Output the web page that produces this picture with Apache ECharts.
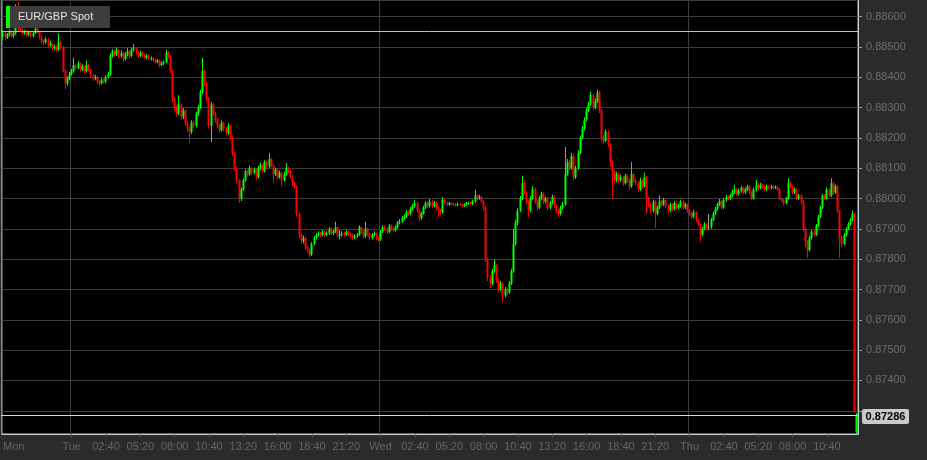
<!DOCTYPE html>
<html>
<head>
<meta charset="utf-8">
<script src="https://cdn.jsdelivr.net/npm/echarts@6/dist/echarts.min.js"></script>
<style>
html,body{margin:0;padding:0;background:#2b2b2b;}
#chart{width:927px;height:460px;}
</style>
</head>
<body>
<div id="chart"></div>
<script>
// 10-minute EUR/GBP candles, Mon 18:40 -> Thu 13:00
const open = [
0.88535,0.88545,0.88530,0.88540,0.88550,0.88535,0.88545,0.88575,0.88560,0.88555,
0.88545,0.88550,0.88540,0.88548,0.88535,0.88545,0.88560,0.88550,0.88530,0.88520,
0.88515,0.88525,0.88505,0.88510,0.88495,0.88500,0.88490,0.88515,0.88500,0.88420,
0.88380,0.88395,0.88410,0.88420,0.88440,0.88430,0.88445,0.88425,0.88435,0.88420,
0.88440,0.88425,0.88405,0.88395,0.88400,0.88385,0.88380,0.88390,0.88385,0.88400,
0.88410,0.88470,0.88485,0.88475,0.88490,0.88470,0.88480,0.88460,0.88475,0.88485,
0.88470,0.88490,0.88495,0.88480,0.88470,0.88480,0.88475,0.88465,0.88470,0.88462,
0.88462,0.88458,0.88450,0.88455,0.88440,0.88445,0.88450,0.88480,0.88470,0.88420,
0.88330,0.88300,0.88280,0.88310,0.88270,0.88290,0.88250,0.88230,0.88220,0.88250,
0.88240,0.88280,0.88300,0.88350,0.88420,0.88380,0.88330,0.88240,0.88310,0.88280,
0.88260,0.88240,0.88225,0.88250,0.88230,0.88215,0.88240,0.88200,0.88150,0.88100,
0.88060,0.88000,0.88030,0.88060,0.88090,0.88080,0.88100,0.88085,0.88095,0.88070,
0.88100,0.88110,0.88090,0.88120,0.88105,0.88130,0.88110,0.88080,0.88095,0.88070,
0.88085,0.88060,0.88080,0.88100,0.88090,0.88075,0.88050,0.88040,0.87950,0.87880,
0.87860,0.87870,0.87840,0.87830,0.87815,0.87850,0.87870,0.87880,0.87885,0.87880,
0.87890,0.87880,0.87885,0.87900,0.87885,0.87890,0.87905,0.87880,0.87880,0.87885,
0.87880,0.87890,0.87885,0.87880,0.87870,0.87875,0.87880,0.87905,0.87890,0.87875,
0.87900,0.87885,0.87870,0.87880,0.87885,0.87870,0.87865,0.87890,0.87905,0.87900,
0.87890,0.87910,0.87900,0.87895,0.87905,0.87920,0.87925,0.87935,0.87940,0.87955,
0.87950,0.87965,0.87975,0.87985,0.87960,0.87935,0.87950,0.87970,0.87985,0.87975,
0.87990,0.87975,0.87985,0.87970,0.87960,0.87955,0.87995,0.87985,0.87980,0.87985,
0.87982,0.87980,0.87978,0.87982,0.87980,0.87975,0.87980,0.87983,0.87985,0.87982,
0.87990,0.88010,0.88000,0.88005,0.87990,0.87970,0.87800,0.87740,0.87720,0.87760,
0.87780,0.87730,0.87700,0.87720,0.87680,0.87700,0.87690,0.87720,0.87760,0.87850,
0.87920,0.87960,0.88000,0.88050,0.88020,0.87990,0.87960,0.88000,0.88030,0.87990,
0.87970,0.88000,0.88015,0.87990,0.88000,0.87970,0.87985,0.88005,0.87975,0.87960,
0.87950,0.87970,0.87980,0.88080,0.88120,0.88100,0.88140,0.88070,0.88100,0.88150,
0.88200,0.88230,0.88260,0.88290,0.88310,0.88340,0.88300,0.88320,0.88350,0.88290,
0.88200,0.88190,0.88220,0.88180,0.88120,0.88090,0.88060,0.88080,0.88060,0.88070,
0.88050,0.88075,0.88060,0.88040,0.88080,0.88060,0.88050,0.88030,0.88060,0.88040,
0.88070,0.88000,0.87980,0.87960,0.87990,0.87950,0.87970,0.87990,0.87980,0.87995,
0.87975,0.87960,0.87980,0.87965,0.87985,0.87970,0.87975,0.87990,0.87970,0.87980,
0.87960,0.87950,0.87940,0.87955,0.87930,0.87915,0.87880,0.87900,0.87915,0.87905,
0.87905,0.87930,0.87950,0.87965,0.87980,0.87990,0.87970,0.87995,0.88005,0.88000,
0.88010,0.88020,0.88030,0.88015,0.88025,0.88035,0.88020,0.88030,0.88040,0.88020,
0.88000,0.88030,0.88045,0.88035,0.88045,0.88040,0.88030,0.88040,0.88035,0.88040,
0.88035,0.88038,0.88030,0.88000,0.87995,0.87985,0.88000,0.88050,0.88040,0.88020,
0.88030,0.88000,0.88010,0.87990,0.87900,0.87860,0.87830,0.87870,0.87890,0.87880,
0.87910,0.87940,0.87970,0.88010,0.88000,0.88030,0.88010,0.88050,0.88020,0.88040,
0.87960,0.87870,0.87850,0.87880,0.87900,0.87915,0.87930,0.87950,0.87230
];
const close = [
0.88545,0.88530,0.88540,0.88550,0.88535,0.88545,0.88575,0.88560,0.88555,0.88545,
0.88550,0.88540,0.88548,0.88535,0.88545,0.88560,0.88550,0.88530,0.88520,0.88515,
0.88525,0.88505,0.88510,0.88495,0.88500,0.88490,0.88515,0.88500,0.88420,0.88380,
0.88395,0.88410,0.88420,0.88440,0.88430,0.88445,0.88425,0.88435,0.88420,0.88440,
0.88425,0.88405,0.88395,0.88400,0.88385,0.88380,0.88390,0.88385,0.88400,0.88410,
0.88470,0.88485,0.88475,0.88490,0.88470,0.88480,0.88460,0.88475,0.88485,0.88470,
0.88490,0.88495,0.88480,0.88470,0.88480,0.88475,0.88465,0.88470,0.88462,0.88462,
0.88458,0.88450,0.88455,0.88440,0.88445,0.88450,0.88480,0.88470,0.88420,0.88330,
0.88300,0.88280,0.88310,0.88270,0.88290,0.88250,0.88230,0.88220,0.88250,0.88240,
0.88280,0.88300,0.88350,0.88420,0.88380,0.88330,0.88240,0.88310,0.88280,0.88260,
0.88240,0.88225,0.88250,0.88230,0.88215,0.88240,0.88200,0.88150,0.88100,0.88060,
0.88000,0.88030,0.88060,0.88090,0.88080,0.88100,0.88085,0.88095,0.88070,0.88100,
0.88110,0.88090,0.88120,0.88105,0.88130,0.88110,0.88080,0.88095,0.88070,0.88085,
0.88060,0.88080,0.88100,0.88090,0.88075,0.88050,0.88040,0.87950,0.87880,0.87860,
0.87870,0.87840,0.87830,0.87815,0.87850,0.87870,0.87880,0.87885,0.87880,0.87890,
0.87880,0.87885,0.87900,0.87885,0.87890,0.87905,0.87880,0.87880,0.87885,0.87880,
0.87890,0.87885,0.87880,0.87870,0.87875,0.87880,0.87905,0.87890,0.87875,0.87900,
0.87885,0.87870,0.87880,0.87885,0.87870,0.87865,0.87890,0.87905,0.87900,0.87890,
0.87910,0.87900,0.87895,0.87905,0.87920,0.87925,0.87935,0.87940,0.87955,0.87950,
0.87965,0.87975,0.87985,0.87960,0.87935,0.87950,0.87970,0.87985,0.87975,0.87990,
0.87975,0.87985,0.87970,0.87960,0.87955,0.87995,0.87985,0.87980,0.87985,0.87982,
0.87980,0.87978,0.87982,0.87980,0.87975,0.87980,0.87983,0.87985,0.87982,0.87990,
0.88010,0.88000,0.88005,0.87990,0.87970,0.87800,0.87740,0.87720,0.87760,0.87780,
0.87730,0.87700,0.87720,0.87680,0.87700,0.87690,0.87720,0.87760,0.87850,0.87920,
0.87960,0.88000,0.88050,0.88020,0.87990,0.87960,0.88000,0.88030,0.87990,0.87970,
0.88000,0.88015,0.87990,0.88000,0.87970,0.87985,0.88005,0.87975,0.87960,0.87950,
0.87970,0.87980,0.88080,0.88120,0.88100,0.88140,0.88070,0.88100,0.88150,0.88200,
0.88230,0.88260,0.88290,0.88310,0.88340,0.88300,0.88320,0.88350,0.88290,0.88200,
0.88190,0.88220,0.88180,0.88120,0.88090,0.88060,0.88080,0.88060,0.88070,0.88050,
0.88075,0.88060,0.88040,0.88080,0.88060,0.88050,0.88030,0.88060,0.88040,0.88070,
0.88000,0.87980,0.87960,0.87990,0.87950,0.87970,0.87990,0.87980,0.87995,0.87975,
0.87960,0.87980,0.87965,0.87985,0.87970,0.87975,0.87990,0.87970,0.87980,0.87960,
0.87950,0.87940,0.87955,0.87930,0.87915,0.87880,0.87900,0.87915,0.87905,0.87905,
0.87930,0.87950,0.87965,0.87980,0.87990,0.87970,0.87995,0.88005,0.88000,0.88010,
0.88020,0.88030,0.88015,0.88025,0.88035,0.88020,0.88030,0.88040,0.88020,0.88000,
0.88030,0.88045,0.88035,0.88045,0.88040,0.88030,0.88040,0.88035,0.88040,0.88035,
0.88038,0.88030,0.88000,0.87995,0.87985,0.88000,0.88050,0.88040,0.88020,0.88030,
0.88000,0.88010,0.87990,0.87900,0.87860,0.87830,0.87870,0.87890,0.87880,0.87910,
0.87940,0.87970,0.88010,0.88000,0.88030,0.88010,0.88050,0.88020,0.88040,0.87960,
0.87870,0.87850,0.87880,0.87900,0.87915,0.87930,0.87950,0.87300,0.87286
];
const high = [
0.88555,0.88550,0.88546,0.88558,0.88556,0.88552,0.88640,0.88648,0.88568,0.88560,
0.88556,0.88555,0.88553,0.88552,0.88550,0.88575,0.88565,0.88553,0.88535,0.88525,
0.88532,0.88528,0.88520,0.88513,0.88508,0.88505,0.88545,0.88520,0.88503,0.88425,
0.88402,0.88418,0.88428,0.88465,0.88445,0.88452,0.88448,0.88442,0.88438,0.88455,
0.88444,0.88428,0.88410,0.88408,0.88404,0.88390,0.88396,0.88395,0.88406,0.88418,
0.88478,0.88492,0.88490,0.88498,0.88494,0.88488,0.88484,0.88482,0.88495,0.88490,
0.88498,0.88510,0.88500,0.88485,0.88488,0.88484,0.88478,0.88476,0.88474,0.88468,
0.88466,0.88462,0.88460,0.88458,0.88452,0.88456,0.88490,0.88486,0.88474,0.88424,
0.88335,0.88306,0.88340,0.88314,0.88298,0.88294,0.88256,0.88236,0.88258,0.88256,
0.88286,0.88308,0.88358,0.88463,0.88425,0.88385,0.88335,0.88318,0.88314,0.88285,
0.88266,0.88245,0.88258,0.88254,0.88236,0.88248,0.88244,0.88205,0.88155,0.88105,
0.88064,0.88036,0.88066,0.88096,0.88095,0.88108,0.88104,0.88102,0.88098,0.88108,
0.88118,0.88114,0.88126,0.88124,0.88150,0.88134,0.88114,0.88102,0.88098,0.88092,
0.88088,0.88088,0.88117,0.88105,0.88094,0.88078,0.88056,0.88044,0.87955,0.87886,
0.87878,0.87874,0.87846,0.87835,0.87856,0.87876,0.87886,0.87892,0.87890,0.87896,
0.87894,0.87892,0.87906,0.87904,0.87896,0.87923,0.87908,0.87895,0.87892,0.87890,
0.87896,0.87894,0.87888,0.87884,0.87882,0.87886,0.87912,0.87908,0.87894,0.87923,
0.87904,0.87888,0.87886,0.87892,0.87888,0.87874,0.87896,0.87912,0.87910,0.87904,
0.87916,0.87914,0.87905,0.87912,0.87926,0.87932,0.87942,0.87948,0.87962,0.87960,
0.87972,0.87982,0.87995,0.87990,0.87964,0.87956,0.87976,0.87992,0.87990,0.87998,
0.87994,0.87992,0.87988,0.87974,0.87965,0.88005,0.87999,0.87990,0.87989,0.87988,
0.87986,0.87984,0.87986,0.87985,0.87983,0.87984,0.87988,0.87990,0.87988,0.87996,
0.88030,0.88015,0.88012,0.88008,0.87994,0.87974,0.87806,0.87746,0.87768,0.87800,
0.87784,0.87735,0.87728,0.87724,0.87708,0.87706,0.87728,0.87768,0.87900,0.87930,
0.87968,0.88008,0.88075,0.88060,0.88025,0.87995,0.88008,0.88040,0.88035,0.87996,
0.88008,0.88022,0.88020,0.88006,0.88004,0.87992,0.88012,0.88010,0.87980,0.87965,
0.87976,0.87988,0.88170,0.88130,0.88126,0.88150,0.88145,0.88108,0.88158,0.88208,
0.88240,0.88268,0.88298,0.88320,0.88352,0.88345,0.88330,0.88360,0.88355,0.88295,
0.88208,0.88228,0.88224,0.88184,0.88125,0.88095,0.88088,0.88085,0.88078,0.88074,
0.88082,0.88080,0.88064,0.88120,0.88085,0.88066,0.88055,0.88068,0.88064,0.88085,
0.88074,0.88005,0.87986,0.87996,0.87994,0.87976,0.88010,0.87996,0.88002,0.88000,
0.87980,0.87986,0.87984,0.87992,0.87990,0.87982,0.87996,0.87994,0.87986,0.87984,
0.87965,0.87955,0.87962,0.87958,0.87935,0.87918,0.87906,0.87922,0.87920,0.87950,
0.87936,0.87956,0.87972,0.87986,0.87998,0.87994,0.88002,0.88012,0.88010,0.88016,
0.88028,0.88045,0.88034,0.88032,0.88042,0.88038,0.88036,0.88046,0.88044,0.88024,
0.88036,0.88061,0.88050,0.88052,0.88050,0.88044,0.88046,0.88044,0.88045,0.88044,
0.88043,0.88042,0.88034,0.88004,0.87998,0.88006,0.88067,0.88056,0.88044,0.88036,
0.88034,0.88016,0.88014,0.87994,0.87905,0.87864,0.87876,0.87896,0.87895,0.87916,
0.87946,0.87976,0.88016,0.88015,0.88036,0.88034,0.88067,0.88055,0.88046,0.88044,
0.87964,0.87876,0.87886,0.87906,0.87922,0.87936,0.87960,0.87955,0.87292
];
const low = [
0.88525,0.88522,0.88526,0.88535,0.88530,0.88530,0.88540,0.88555,0.88548,0.88538,
0.88540,0.88535,0.88535,0.88528,0.88530,0.88542,0.88545,0.88525,0.88512,0.88505,
0.88510,0.88498,0.88500,0.88488,0.88490,0.88482,0.88486,0.88492,0.88415,0.88360,
0.88372,0.88390,0.88405,0.88415,0.88422,0.88425,0.88418,0.88420,0.88412,0.88415,
0.88418,0.88398,0.88388,0.88390,0.88378,0.88368,0.88375,0.88378,0.88380,0.88396,
0.88405,0.88465,0.88468,0.88470,0.88462,0.88465,0.88450,0.88455,0.88470,0.88465,
0.88466,0.88485,0.88474,0.88464,0.88466,0.88468,0.88460,0.88460,0.88457,0.88455,
0.88452,0.88444,0.88446,0.88432,0.88436,0.88440,0.88446,0.88462,0.88412,0.88320,
0.88290,0.88270,0.88275,0.88260,0.88262,0.88240,0.88220,0.88183,0.88212,0.88232,
0.88235,0.88272,0.88295,0.88345,0.88370,0.88320,0.88230,0.88185,0.88272,0.88250,
0.88232,0.88215,0.88220,0.88222,0.88205,0.88210,0.88192,0.88140,0.88090,0.88050,
0.87985,0.87992,0.88025,0.88055,0.88072,0.88075,0.88078,0.88080,0.88062,0.88066,
0.88095,0.88082,0.88086,0.88098,0.88100,0.88102,0.88050,0.88074,0.88062,0.88065,
0.88040,0.88055,0.88075,0.88084,0.88068,0.88042,0.88032,0.87940,0.87870,0.87850,
0.87852,0.87832,0.87822,0.87806,0.87810,0.87845,0.87865,0.87875,0.87874,0.87876,
0.87874,0.87876,0.87880,0.87880,0.87880,0.87886,0.87874,0.87866,0.87874,0.87874,
0.87876,0.87878,0.87873,0.87864,0.87866,0.87870,0.87876,0.87884,0.87868,0.87870,
0.87878,0.87864,0.87865,0.87876,0.87862,0.87857,0.87860,0.87886,0.87894,0.87883,
0.87886,0.87894,0.87888,0.87890,0.87900,0.87915,0.87920,0.87930,0.87936,0.87943,
0.87945,0.87960,0.87970,0.87954,0.87925,0.87930,0.87946,0.87965,0.87968,0.87970,
0.87968,0.87970,0.87962,0.87940,0.87945,0.87950,0.87980,0.87975,0.87976,0.87978,
0.87975,0.87973,0.87974,0.87976,0.87971,0.87972,0.87976,0.87979,0.87977,0.87978,
0.87986,0.87994,0.87996,0.87984,0.87960,0.87790,0.87728,0.87705,0.87715,0.87755,
0.87722,0.87690,0.87694,0.87658,0.87674,0.87680,0.87686,0.87715,0.87755,0.87845,
0.87912,0.87955,0.87995,0.88012,0.87982,0.87940,0.87955,0.87995,0.87982,0.87962,
0.87965,0.87994,0.87982,0.87984,0.87962,0.87965,0.87980,0.87968,0.87952,0.87940,
0.87944,0.87964,0.87976,0.88075,0.88092,0.88095,0.88060,0.88064,0.88095,0.88145,
0.88195,0.88224,0.88255,0.88284,0.88305,0.88292,0.88295,0.88315,0.88282,0.88190,
0.88180,0.88185,0.88170,0.88104,0.88000,0.88050,0.88054,0.88052,0.88055,0.88042,
0.88045,0.88052,0.88030,0.88035,0.88052,0.88044,0.88022,0.88025,0.88032,0.88035,
0.87950,0.87972,0.87952,0.87955,0.87903,0.87945,0.87965,0.87974,0.87975,0.87968,
0.87952,0.87955,0.87958,0.87960,0.87962,0.87965,0.87970,0.87964,0.87965,0.87953,
0.87944,0.87932,0.87935,0.87922,0.87908,0.87857,0.87875,0.87895,0.87898,0.87895,
0.87900,0.87925,0.87945,0.87960,0.87975,0.87964,0.87966,0.87990,0.87994,0.87995,
0.88005,0.88015,0.88008,0.88010,0.88020,0.88014,0.88015,0.88025,0.88014,0.87994,
0.87996,0.88025,0.88028,0.88030,0.88034,0.88024,0.88025,0.88030,0.88030,0.88030,
0.88031,0.88025,0.87994,0.87988,0.87978,0.87980,0.87996,0.88034,0.88014,0.88015,
0.87994,0.87995,0.87982,0.87892,0.87840,0.87805,0.87825,0.87864,0.87874,0.87876,
0.87905,0.87935,0.87965,0.87994,0.87996,0.88004,0.88005,0.88012,0.88015,0.87952,
0.87805,0.87840,0.87845,0.87875,0.87895,0.87910,0.87925,0.87295,0.87224
];

const seriesName = 'EUR/GBP Spot';
const lastPrice = 0.87286;
const refLevel = 0.88552;
const yMin = 0.872235;
const yMax = 0.886544;

const days = ['Mon', 'Tue', 'Wed', 'Thu'];
const startMinute = 18 * 60 + 40;
const stepMinutes = 10;
const tickTimes = ['Mon 18:40','Tue 00:00','Tue 02:40','Tue 05:20','Tue 08:00','Tue 10:40','Tue 13:20','Tue 16:00','Tue 18:40','Tue 21:20',
  'Wed 00:00','Wed 02:40','Wed 05:20','Wed 08:00','Wed 10:40','Wed 13:20','Wed 16:00','Wed 18:40','Wed 21:20',
  'Thu 00:00','Thu 02:40','Thu 05:20','Thu 08:00','Thu 10:40'];
const tickLabels = ['Mon','Tue','02:40','05:20','08:00','10:40','13:20','16:00','18:40','21:20',
  'Wed','02:40','05:20','08:00','10:40','13:20','16:00','18:40','21:20',
  'Thu','02:40','05:20','08:00','10:40'];
const dayStarts = ['Tue 00:00', 'Wed 00:00', 'Thu 00:00'];

function pad(n) { return String(n).padStart(2, '0'); }
const categories = close.map(function (_, i) {
  const t = startMinute + i * stepMinutes;
  const d = Math.floor(t / 1440);
  const m = t % 1440;
  return days[d] + ' ' + pad(Math.floor(m / 60)) + ':' + pad(m % 60);
});
const candleRows = close.map(function (c, i) { return [i, open[i], c, low[i], high[i]]; });

const UP = '#00ff00', DOWN = '#ff0000', FLAT = '#9a9a9a';
function renderCandle(params, api) {
  const i = api.value(0), o = api.value(1), c = api.value(2), l = api.value(3), h = api.value(4);
  const pO = api.coord([i, o]), pC = api.coord([i, c]);
  const pL = api.coord([i, l]), pH = api.coord([i, h]);
  const col = c > o ? UP : (c < o ? DOWN : FLAT);
  const x = Math.floor(pO[0]);
  const top = Math.min(pO[1], pC[1]), bot = Math.max(pO[1], pC[1]);
  return {
    type: 'group',
    children: [
      { type: 'rect', shape: { x: x, y: pH[1], width: 1, height: Math.max(1, pL[1] - pH[1]) }, style: { fill: col } },
      { type: 'rect', shape: { x: x - 0.5, y: top, width: 2, height: Math.max(1, bot - top) }, style: { fill: col } }
    ]
  };
}

const chart = echarts.init(document.getElementById('chart'), null, { renderer: 'canvas' });
const font = 'Liberation Sans, Arial, sans-serif';
const GRID_LEFT = 1, GRID_RIGHT_EDGE = 858;
chart.setOption({
  animation: false,
  backgroundColor: '#2b2b2b',
  grid: {
    left: GRID_LEFT, right: 927 - GRID_RIGHT_EDGE, top: 0, bottom: 26,
    show: true, backgroundColor: '#000000', borderColor: '#c5cad3', borderWidth: 1
  },
  xAxis: {
    type: 'category',
    data: categories,
    boundaryGap: true,
    axisLine: { show: true, lineStyle: { color: '#c5cad3' } },
    axisTick: {
      show: true, alignWithLabel: true, length: 3,
      lineStyle: { color: '#5a5a5a' },
      interval: function (i, v) { return tickTimes.indexOf(v) > 0; }
    },
    axisLabel: {
      color: '#666666', fontSize: 11, fontFamily: font, margin: 7,
      alignMinLabel: 'left',
      interval: function (i, v) { return tickTimes.indexOf(v) >= 0; },
      formatter: function (v) { const k = tickTimes.indexOf(v); return k >= 0 ? tickLabels[k] : ''; }
    },
    splitLine: {
      show: true,
      lineStyle: { color: '#3c3c3c', width: 1 },
      interval: function (i, v) { return dayStarts.indexOf(v) >= 0; }
    }
  },
  yAxis: {
    type: 'value',
    position: 'right',
    min: yMin, max: yMax,
    splitNumber: 14,
    axisLine: { show: true, lineStyle: { color: '#c5cad3' } },
    axisTick: { show: true, length: 4, lineStyle: { color: '#9a9ea6' } },
    axisLabel: {
      color: '#6e6e6e', fontSize: 11, fontFamily: font, margin: 8,
      showMinLabel: false, showMaxLabel: false,
      formatter: function (v) { return Math.abs(v - lastPrice) < 0.0003 ? '' : v.toFixed(5); }
    },
    splitLine: { show: true, lineStyle: { color: '#3c3c3c', width: 1 } }
  },
  series: [{
    name: seriesName,
    type: 'custom',
    clip: true,
    data: candleRows,
    encode: { x: 0, y: [1, 2, 3, 4] },
    renderItem: renderCandle
  }]
});

// overlays positioned through the chart's own y scale
const yLast = chart.convertToPixel({ yAxisIndex: 0 }, lastPrice);
const yRef = chart.convertToPixel({ yAxisIndex: 0 }, refLevel);
chart.setOption({
  graphic: [
    { type: 'line', z: 50, silent: true,
      shape: { x1: GRID_LEFT, y1: Math.round(yRef) + 0.5, x2: GRID_RIGHT_EDGE, y2: Math.round(yRef) + 0.5 },
      style: { stroke: '#bdbdbd', lineWidth: 1 } },
    { type: 'line', z: 50, silent: true,
      shape: { x1: GRID_LEFT, y1: Math.round(yLast) + 0.5, x2: GRID_RIGHT_EDGE, y2: Math.round(yLast) + 0.5 },
      style: { stroke: '#d8d8d8', lineWidth: 1 } },
    { type: 'rect', z: 60, silent: true,
      shape: { x: 862, y: Math.round(yLast) - 6, width: 47, height: 15, r: 2 },
      style: { fill: '#c9c9c9' } },
    { type: 'text', z: 61, silent: true,
      x: 885.5, y: Math.round(yLast) + 2,
      style: { text: lastPrice.toFixed(5), fill: '#000000', font: 'bold 11px ' + font, align: 'center', verticalAlign: 'middle' } },
    { type: 'rect', z: 60, silent: true,
      shape: { x: 10, y: 6, width: 100, height: 22 },
      style: { fill: '#3d3d3d' } },
    { type: 'rect', z: 61, silent: true,
      shape: { x: 6, y: 6, width: 4, height: 22 },
      style: { fill: '#00ff00' } },
    { type: 'text', z: 61, silent: true,
      x: 18, y: 17,
      style: { text: seriesName, fill: '#e4e4e4', font: '11px ' + font, verticalAlign: 'middle' } }
  ]
});
</script>
</body>
</html>
